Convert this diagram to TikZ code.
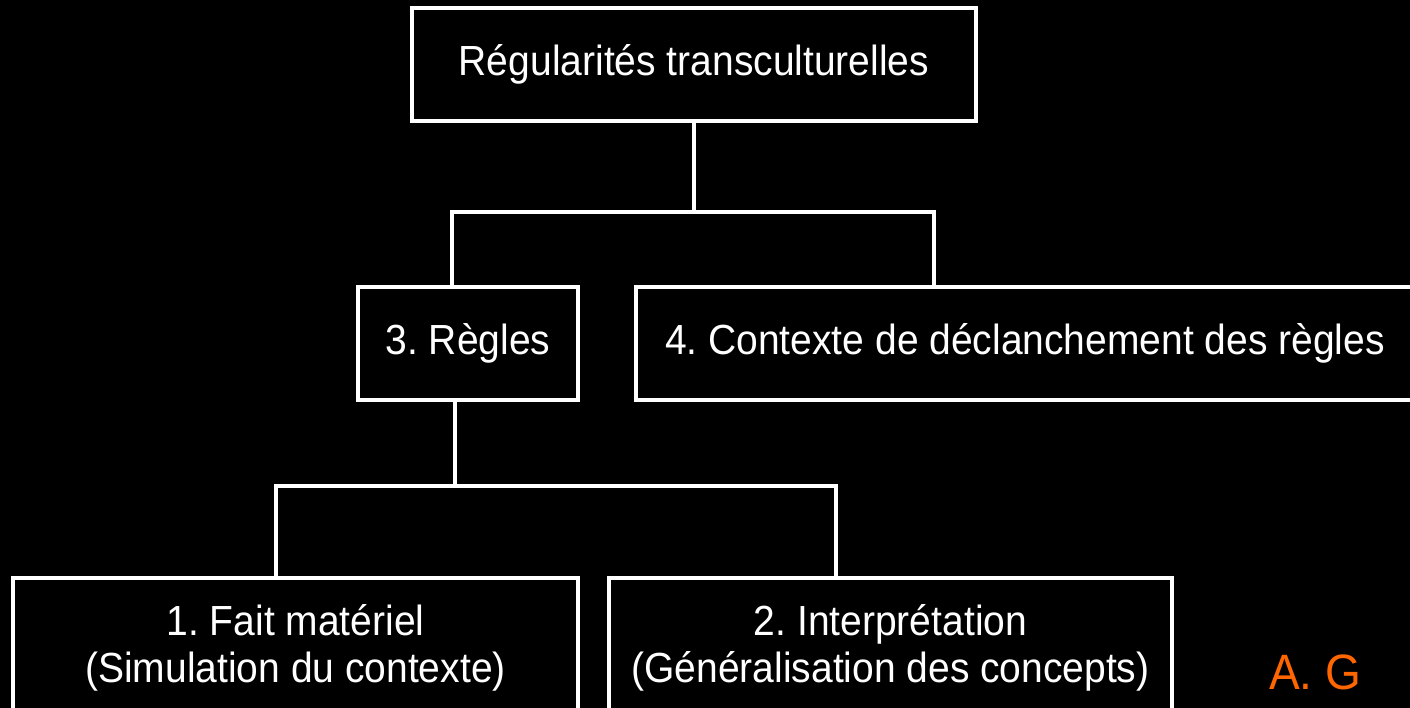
\documentclass[tikz,border=0pt]{standalone}
\usepackage{fontspec}
\usepackage{graphicx}
\setmainfont{Liberation Sans}
\frenchspacing
\definecolor{agorange}{RGB}{255,102,0}
\newcommand{\stx}[1]{\scalebox{1}[1.08]{\begin{tabular}{@{}c@{}}#1\end{tabular}}}
\newcommand{\sto}[1]{\raisebox{-3pt}{\scalebox{1}[1.08]{#1}}}
\begin{document}
\begin{tikzpicture}[x=1pt,y=-1pt,
  box/.style={draw=white, line width=4pt, fill=black, text=white, rectangle,
    inner sep=0pt, font=\fontsize{39}{43.5}\selectfont},
  link/.style={draw=white, line width=4pt}]
\useasboundingbox (0,0) rectangle (1410,708);
\fill[black] (0,0) rectangle (1410,708);
\node[box, minimum width=564pt, minimum height=113pt] (top) at (694,64.5) {\sto{Régularités transculturelles}};
\node[box, minimum width=220pt, minimum height=113pt] (r3) at (468,343.5) {\sto{3. Règles}};
\node[box, minimum width=778pt, minimum height=113pt] (r4) at (1025,343.5) {\sto{4. Contexte de déclanchement des règles}};
\node[box, minimum width=565pt, minimum height=144pt] (r1) at (295.5,650) {\stx{1. Fait matériel\\(Simulation du contexte)}};
\node[box, minimum width=563pt, minimum height=144pt] (r2) at (890.5,650) {\stx{2. Interprétation\\(Généralisation des concepts)}};
\node[text=agorange, font=\fontsize{46}{50}\selectfont] (ag) at (1315,672) {\scalebox{1}[1.08]{A. G}};
\coordinate (a1) at (452,212);
\coordinate (a2) at (934,212);
\coordinate (b1) at (276,486);
\coordinate (b2) at (836,486);
\draw[link] (top.south) -- (top.south |- a1);
\draw[link] (a1 |- r3.north) -- (a1) -- (a2) -- (a2 |- r4.north);
\draw[link] ([xshift=-13pt]r3.south) -- ([xshift=-13pt]r3.south |- b1);
\draw[link] (b1 |- r1.north) -- (b1) -- (b2) -- (b2 |- r2.north);
\end{tikzpicture}
\end{document}
